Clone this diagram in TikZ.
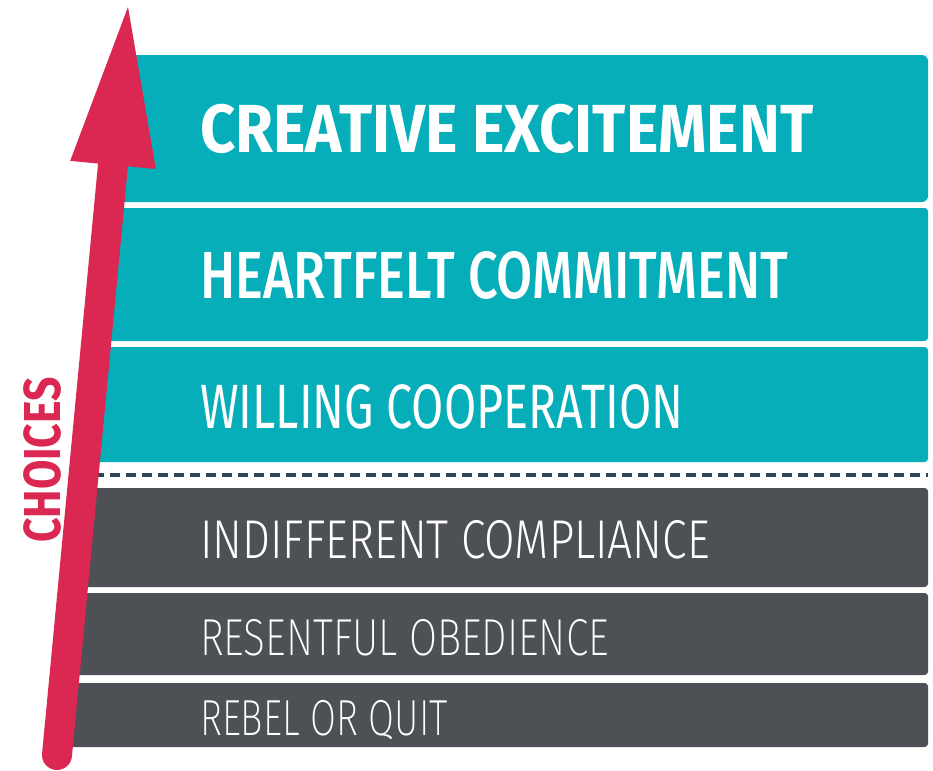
\documentclass[tikz,border=0pt]{standalone}
\usepackage{fontspec}
\usetikzlibrary{arrows.meta}
\definecolor{LadderTeal}{HTML}{06AEBA}
\definecolor{LadderGray}{HTML}{4D5055}
\definecolor{LadderRed}{HTML}{DA2852}
\definecolor{LadderDash}{HTML}{2B4653}
\newfontfamily\ladderBold{Fira Sans Bold}
\newfontfamily\ladderMedium{Fira Sans Medium}
\newfontfamily\ladderRegular{Fira Sans}
\newfontfamily\ladderLight{Fira Sans Light}
\newfontfamily\ladderXLight{Fira Sans ExtraLight}

\begin{document}
\begin{tikzpicture}[x=0.75pt,y=-0.75pt,
    rung/.style={rounded corners=2.5pt},
    rungtext/.style={anchor=base west,text=white,inner sep=0pt,
                     xscale=#1,transform shape}]
  \useasboundingbox (0,0) rectangle (933,771);
  \coordinate (tail) at (57,755);
  \coordinate (tip) at (128,7);

  % the rungs, cut off along the arrow
  \begin{scope}
    \clip (tail) -- (tip) -- (933,0) -- (933,771) -- (57,771) -- cycle;
    \fill[LadderTeal,rounded corners=4.5pt] (30,55) rectangle (928,202);
    \fill[LadderTeal,rung] (30,208) rectangle (928,341);
    \fill[LadderTeal,rung] (30,347) rectangle (928,462);
    \draw[LadderDash,line width=3pt,dash pattern=on 7.5pt off 4.5pt]
      (30,475) -- (928,475);
    \fill[LadderGray,rung] (30,488) rectangle (928,587);
    \fill[LadderGray,rung] (30,593) rectangle (928,675);
    \fill[LadderGray,rung] (30,683) rectangle (928,747);
  \end{scope}

  \node[rungtext=0.905,font=\ladderBold\fontsize{51}{51}\selectfont]
    (creative) at (200,152) {CREATIVE EXCITEMENT};
  \node[rungtext=0.785,font=\ladderMedium\fontsize{50}{50}\selectfont]
    (heartfelt) at (200,298) {HEARTFELT COMMITMENT};
  \node[rungtext=0.745,font=\ladderRegular\fontsize{47}{47}\selectfont]
    (willing) at (200,428) {WILLING COOPERATION};
  \node[rungtext=0.81,font=\ladderLight\fontsize{41}{41}\selectfont]
    (indifferent) at (200,558) {INDIFFERENT COMPLIANCE};
  \node[rungtext=0.78,font=\ladderXLight\fontsize{39}{39}\selectfont]
    (resentful) at (200,655) {RESENTFUL OBEDIENCE};
  \node[rungtext=0.74,font=\ladderXLight\fontsize{38}{38}\selectfont]
    (rebel) at (200,735) {REBEL OR QUIT};

  % choices arrow
  \draw[LadderRed,line width=22.5pt,line cap=round,
    -{Triangle[length=119pt,width=64.5pt,line width'=0pt]}] (tail) -- (tip);
  \node[rotate=90,xscale=0.82,transform shape,text=LadderRed,inner sep=0pt,
    font=\ladderBold\fontsize{39}{39}\selectfont] (choices) at (42,460) {CHOICES};
\end{tikzpicture}
\end{document}
